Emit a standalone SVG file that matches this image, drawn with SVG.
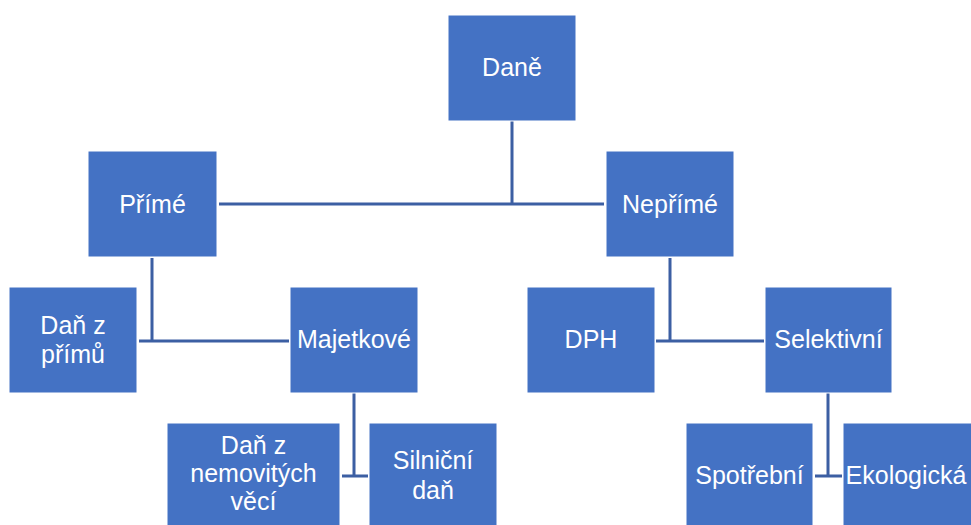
<svg xmlns="http://www.w3.org/2000/svg" width="971" height="525" viewBox="0 0 971 525">
<style>
.box{fill:#4472C4;stroke:#ffffff;stroke-width:1}
.t{fill:#ffffff;font-family:"Liberation Sans","Open Sans",Arial,sans-serif;font-size:25px;text-anchor:middle}
.c{stroke:#3C5FA3;stroke-width:3;fill:none}
</style>
<rect width="971" height="525" fill="#ffffff"/>
<g id="connectors">
<path class="c" d="M512 121V204M219 204H604"/>
<path class="c" d="M152 258V341M139 341H289"/>
<path class="c" d="M670 258V341M656 341H764"/>
<path class="c" d="M354 393V476M342 476H368"/>
<path class="c" d="M828 393V476M815 476H842"/>
</g>
<g id="n-dane"><rect class="box" x="448" y="15" width="128" height="106"/><text class="t" x="512" y="76">Daně</text></g>
<g id="n-prime"><rect class="box" x="88" y="151" width="129" height="106"/><text class="t" x="152.500" y="213">Přímé</text></g>
<g id="n-neprime"><rect class="box" x="606" y="151" width="128" height="106"/><text class="t" x="670" y="213">Nepřímé</text></g>
<g id="n-danzprimu"><rect class="box" x="9" y="287" width="128" height="106"/><text class="t" x="73" y="334">Daň z</text><text class="t" x="73" y="363">přímů</text></g>
<g id="n-majetkove"><rect class="box" x="290" y="287" width="128" height="106"/><text class="t" x="354" y="348">Majetkové</text></g>
<g id="n-dph"><rect class="box" x="527" y="287" width="128" height="106"/><text class="t" x="591" y="348">DPH</text></g>
<g id="n-selektivni"><rect class="box" x="765" y="287" width="127" height="106"/><text class="t" x="828.500" y="348">Selektivní</text></g>
<g id="n-nemovitosti"><rect class="box" x="167" y="423" width="173" height="106"/><text class="t" x="253.500" y="454">Daň z</text><text class="t" x="253.500" y="482">nemovitých</text><text class="t" x="253.500" y="510">věcí</text></g>
<g id="n-silnicni"><rect class="box" x="369" y="423" width="128" height="106"/><text class="t" x="433" y="469">Silniční</text><text class="t" x="433" y="499">daň</text></g>
<g id="n-spotrebni"><rect class="box" x="686" y="423" width="127" height="106"/><text class="t" x="749.500" y="484">Spotřební</text></g>
<g id="n-ekologicka"><rect class="box" x="843" y="423" width="135" height="106"/><text class="t" x="906" y="484">Ekologická</text></g>
</svg>
